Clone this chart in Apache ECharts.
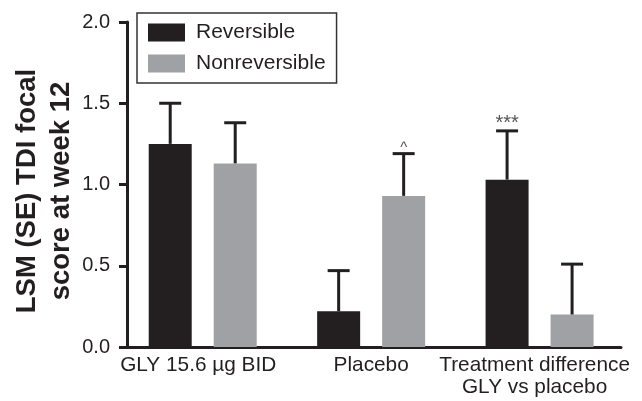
<!DOCTYPE html>
<html>
<head>
<meta charset="utf-8">
<script src="https://cdn.jsdelivr.net/npm/echarts@6/dist/echarts.min.js"></script>
<style>
html,body{margin:0;padding:0;background:#fff;}
#c{width:642px;height:401px;}
</style>
</head>
<body>
<div id="c"></div>
<script>
const categories = ['GLY 15.6 µg BID', 'Placebo', 'Treatment difference\nGLY vs placebo'];
const seriesNames = ['Reversible', 'Nonreversible'];
const reversible = [1.25, 0.22, 1.03];
const reversibleUpper = [1.50, 0.47, 1.33];
const nonreversible = [1.13, 0.93, 0.20];
const nonreversibleUpper = [1.38, 1.19, 0.51];
const reversibleNotes = ['', '', '***'];
const nonreversibleNotes = ['', '^', ''];
const yMin = 0, yMax = 2, yStep = 0.5;

const FONT = 'Liberation Sans, Arial, Helvetica, sans-serif';
const DARK = '#231f20';
const GREY = '#a0a1a4';
const BAR_W = 43;
const BAR_GAP = 22;

function errSeries(vals, uppers, notes, offset) {
  return {
    type: 'custom',
    xAxisIndex: 1,
    yAxisIndex: 1,
    z: 5,
    silent: true,
    data: vals.map((v, i) => [i, v, uppers[i]]),
    renderItem: function (params, api) {
      const i = api.value(0);
      const base = api.coord([i, api.value(1)]);
      const top = api.coord([i, api.value(2)]);
      const x = base[0] + offset;
      const children = [
        { type: 'line', shape: { x1: x, y1: base[1], x2: x, y2: top[1] }, style: { stroke: DARK, lineWidth: 3 } },
        { type: 'line', shape: { x1: x - 11, y1: top[1], x2: x + 11, y2: top[1] }, style: { stroke: DARK, lineWidth: 3 } }
      ];
      const note = notes[params.dataIndex];
      if (note) {
        const isStar = note.indexOf('*') >= 0;
        children.push({
          type: 'text',
          x: x, y: top[1] + (isStar ? 3 : 1.5),
          style: { text: note, fontFamily: FONT, fontSize: isStar ? 20 : 15, fill: '#555', align: 'center', verticalAlign: 'bottom' }
        });
      }
      return { type: 'group', children: children };
    }
  };
}

const chart = echarts.init(document.getElementById('c'), null, { renderer: 'canvas' });
const off = (BAR_W + BAR_GAP) / 2;
chart.setOption({
  animation: false,
  backgroundColor: '#fff',
  textStyle: { fontFamily: FONT },
  grid: [
    { left: 127, top: 22, width: 494, height: 325 },
    { left: 118.5, top: 22, width: 511, height: 325 }
  ],
  legend: {
    data: seriesNames,
    orient: 'vertical',
    left: 137, top: 13,
    itemWidth: 37, itemHeight: 18, itemGap: 10,
    padding: [9, 11, 9, 11],
    borderColor: '#333', borderWidth: 1.5,
    icon: 'rect',
    textStyle: { fontSize: 21, color: DARK, fontFamily: FONT, padding: [0, 0, 0, 6] }
  },
  xAxis: [
    {
      gridIndex: 0, type: 'value', min: 0, max: 1,
      axisLine: { show: true, lineStyle: { color: DARK, width: 3 } },
      axisTick: { show: false }, axisLabel: { show: false }, splitLine: { show: false }
    },
    {
      gridIndex: 1, type: 'category',
      data: [
        { value: categories[0], textStyle: { padding: [0, 9, 0, 0] } },
        categories[1],
        { value: categories[2], textStyle: { padding: [0, 10, 0, 0] } }
      ],
      axisLine: { show: false }, axisTick: { show: false },
      axisLabel: { fontSize: 20.8, color: DARK, fontFamily: FONT, margin: 7, lineHeight: 22, interval: 0 }
    }
  ],
  yAxis: [
    {
      gridIndex: 0, type: 'value', min: yMin, max: yMax, interval: yStep,
      axisLine: { show: true, lineStyle: { color: DARK, width: 3 } },
      axisTick: { show: true, length: 8, lineStyle: { color: DARK, width: 3 } },
      axisLabel: { fontSize: 20, color: DARK, fontFamily: FONT, margin: 17, formatter: v => v.toFixed(1) },
      splitLine: { show: false }
    },
    { gridIndex: 1, type: 'value', min: yMin, max: yMax, show: false }
  ],
  graphic: [{
    type: 'text',
    x: 44, y: 191,
    rotation: Math.PI / 2,
    style: {
      text: 'LSM (SE) TDI focal\nscore at week 12',
      fontFamily: FONT, fontSize: 27.5, fontWeight: 'bold',
      fill: DARK, align: 'center', verticalAlign: 'middle', lineHeight: 34
    }
  }],
  series: [
    { name: seriesNames[0], type: 'bar', xAxisIndex: 1, yAxisIndex: 1, data: reversible, barWidth: BAR_W, barGap: (BAR_GAP / BAR_W * 100) + '%', itemStyle: { color: DARK } },
    { name: seriesNames[1], type: 'bar', xAxisIndex: 1, yAxisIndex: 1, data: nonreversible, barWidth: BAR_W, itemStyle: { color: GREY } },
    errSeries(reversible, reversibleUpper, reversibleNotes, -off),
    errSeries(nonreversible, nonreversibleUpper, nonreversibleNotes, off)
  ]
});
</script>
</body>
</html>
